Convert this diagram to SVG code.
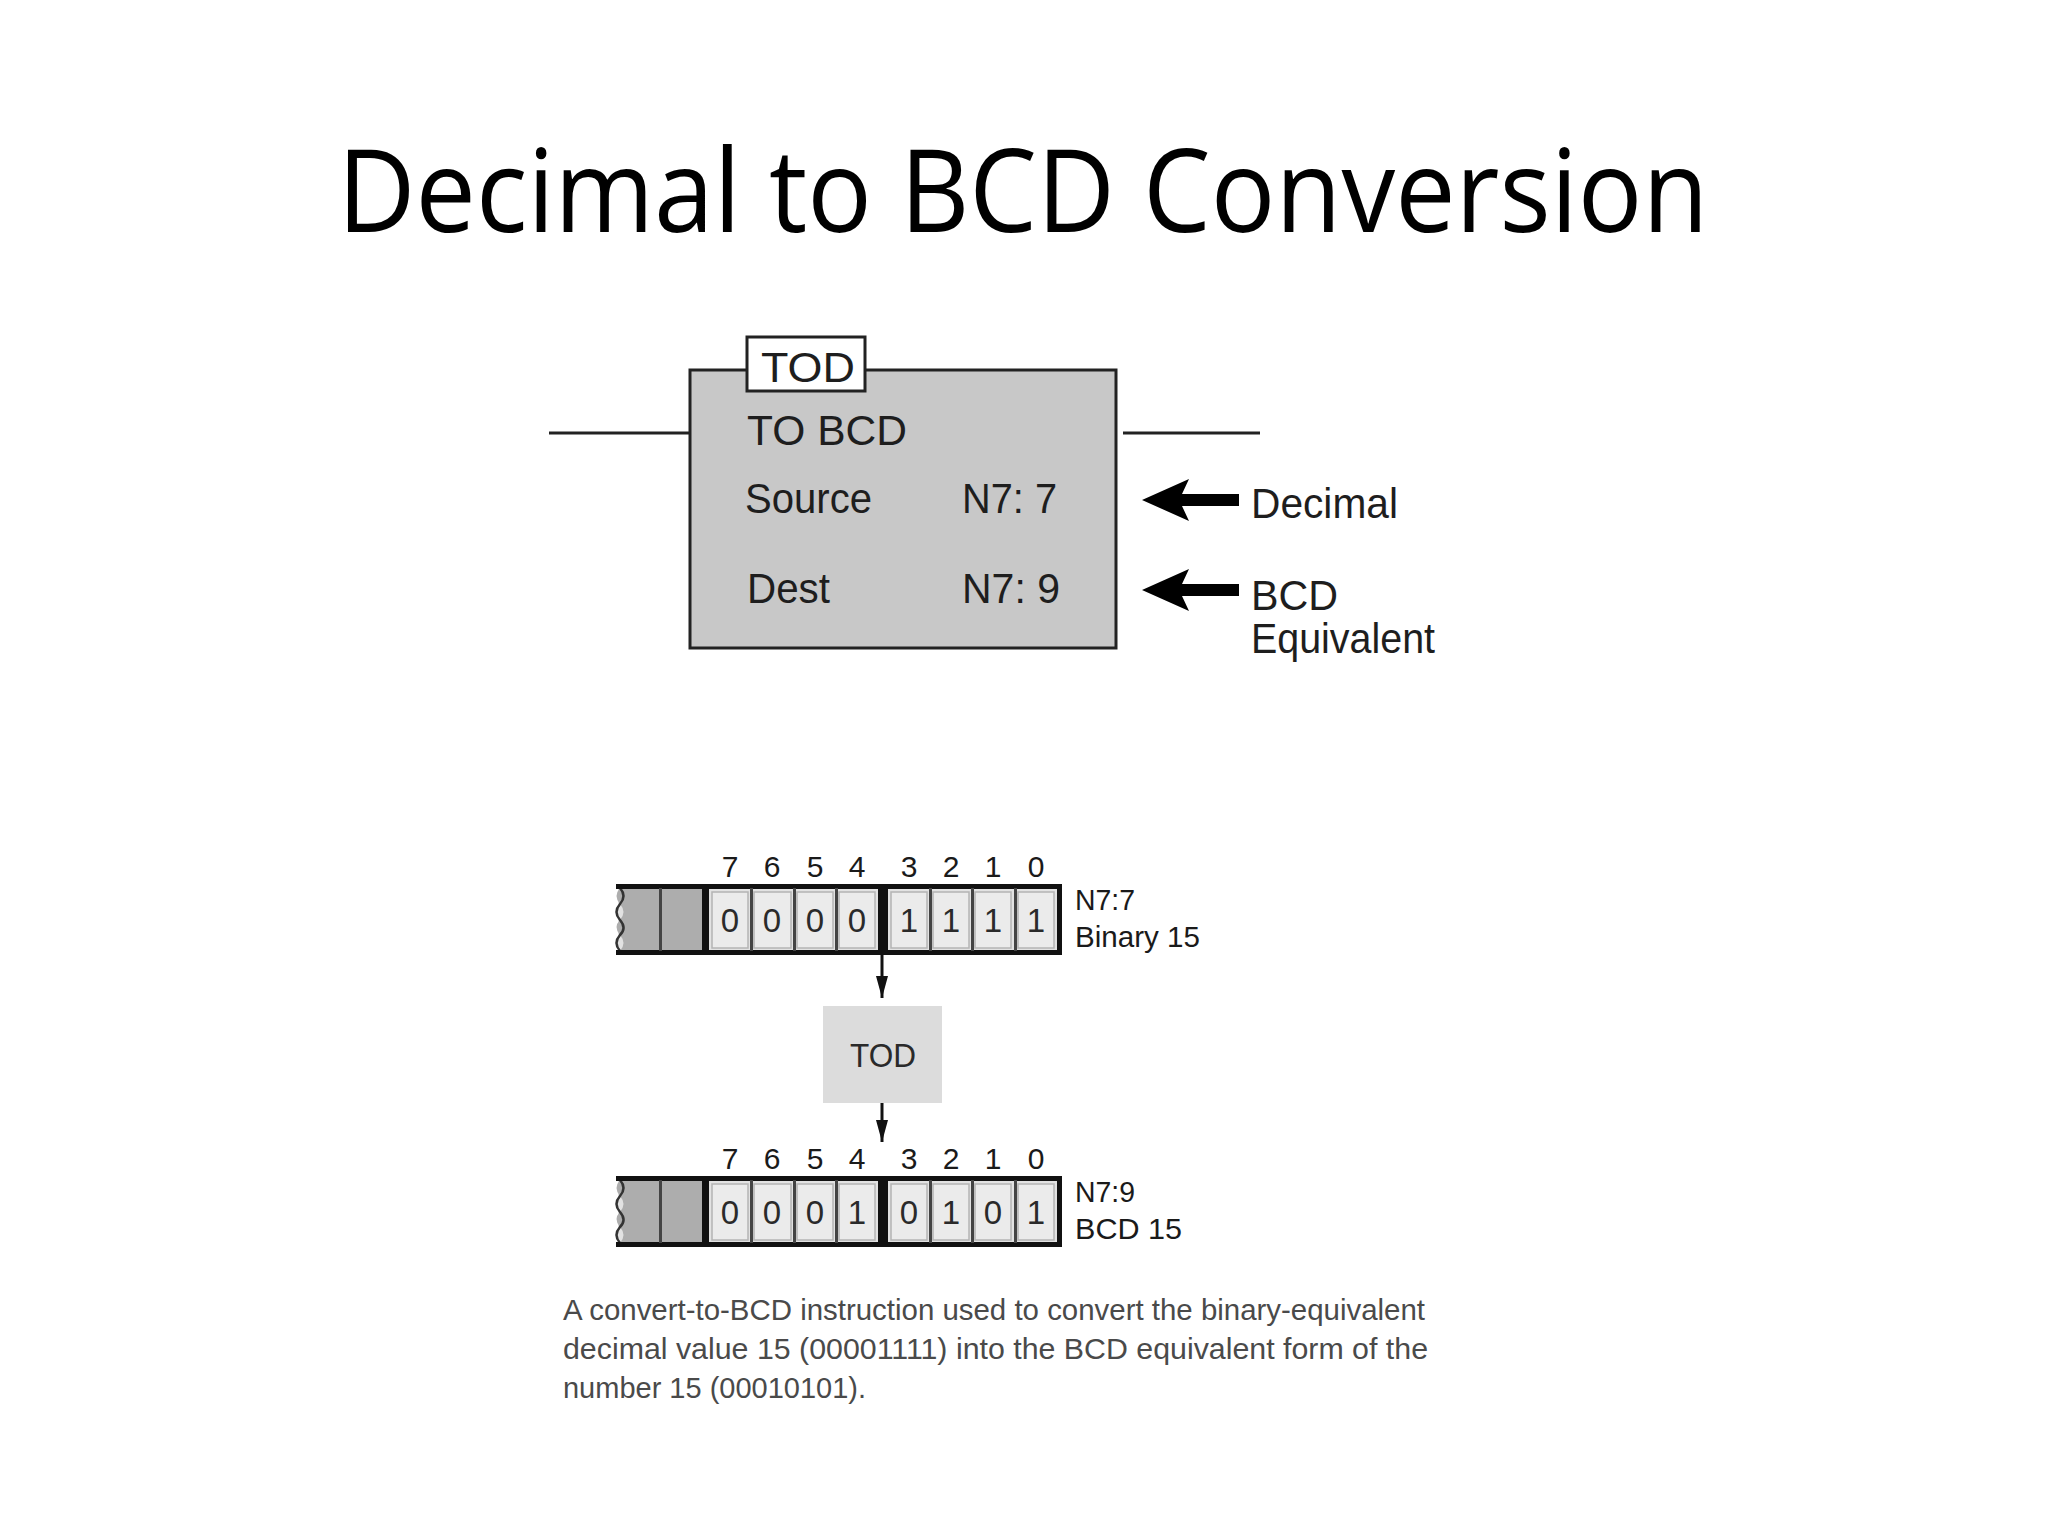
<svg xmlns="http://www.w3.org/2000/svg" width="2048" height="1536" viewBox="0 0 2048 1536">
<style>
.title{font-family:"Open Sans","Noto Sans",sans-serif;font-size:116px;fill:#000}
.lad{font-family:"Liberation Sans",Arial,sans-serif;font-size:42px;fill:#1e1e1e}
.bitn{font-family:"Liberation Sans",Arial,sans-serif;font-size:30px;fill:#1a1a1a;text-anchor:middle}
.bitv{font-family:"Liberation Sans",Arial,sans-serif;font-size:33px;fill:#2a2a2a;text-anchor:middle}
.rlab{font-family:"Liberation Sans",Arial,sans-serif;font-size:29px;fill:#1a1a1a}
.cap{font-family:"Liberation Sans",Arial,sans-serif;font-size:29px;fill:#4a4a4a}
.wire{stroke:#222;stroke-width:3;fill:none}
.big{fill:#000}
.sep{fill:#444}
.bar{fill:#111}
.cell{fill:#ebebeb;stroke:#b4b4b4;stroke-width:1.5}
.conn{stroke:#111;stroke-width:3;fill:none}
</style>
<defs>
<marker id="ah" markerUnits="userSpaceOnUse" markerWidth="22" markerHeight="12" viewBox="0 0 22 12" refX="22" refY="6" orient="auto">
<path d="M0 0 L22 6 L0 12 Z" fill="#111"/>
</marker>
<g id="register">
<rect x="618" y="886" width="444" height="67" fill="#e2e2e2"/>
<path d="M620 888 H702 V951 H620 q7 -8 0 -16 q-7 -8 0 -15 q7 -8 0 -16 q-7 -8 0 -16 Z" fill="#adadad"/>
<path d="M620 888 q7 8 0 16 q-7 8 0 16 q7 8 0 15 q-7 8 0 16" stroke="#333" stroke-width="2.5" fill="none"/>
<rect class="cell" x="712" y="892" width="36" height="56"/>
<rect class="cell" x="754" y="892" width="37" height="56"/>
<rect class="cell" x="797" y="892" width="36" height="56"/>
<rect class="cell" x="839" y="892" width="36" height="56"/>
<rect class="cell" x="891" y="892" width="36" height="56"/>
<rect class="cell" x="933" y="892" width="36" height="56"/>
<rect class="cell" x="975" y="892" width="36" height="56"/>
<rect class="cell" x="1018" y="892" width="36" height="56"/>
<rect class="bar" x="616" y="884" width="446" height="5"/>
<rect class="bar" x="616" y="950" width="446" height="5"/>
<rect class="sep" x="659" y="888" width="3" height="63"/>
<rect class="bar" x="702" y="884" width="7" height="71"/>
<rect class="sep" x="750" y="888" width="3" height="63"/>
<rect class="sep" x="793" y="888" width="3" height="63"/>
<rect class="sep" x="835" y="888" width="3" height="63"/>
<rect class="bar" x="878" y="884" width="10" height="71"/>
<rect class="sep" x="929" y="888" width="3" height="63"/>
<rect class="sep" x="971" y="888" width="3" height="63"/>
<rect class="sep" x="1014" y="888" width="3" height="63"/>
<rect class="bar" x="1057" y="884" width="5" height="71"/>
</g>
</defs>
<rect width="2048" height="1536" fill="#fff"/>

<g id="title">
<text class="title" x="1023" y="232" text-anchor="middle" textLength="1371" lengthAdjust="spacingAndGlyphs">Decimal to BCD Conversion</text>
</g>

<g id="tod-instruction">
<rect x="690" y="370" width="426" height="278" fill="#c8c8c8" stroke="#222" stroke-width="3"/>
<rect x="747" y="337" width="118" height="54" fill="#fff" stroke="#222" stroke-width="3"/>
<text class="lad" x="761" y="382" textLength="94" lengthAdjust="spacingAndGlyphs">TOD</text>
<text class="lad" x="747" y="445" textLength="160" lengthAdjust="spacingAndGlyphs">TO BCD</text>
<text class="lad" x="745" y="513" textLength="127" lengthAdjust="spacingAndGlyphs">Source</text>
<text class="lad" x="962" y="513" textLength="95" lengthAdjust="spacingAndGlyphs">N7: 7</text>
<text class="lad" x="747" y="603" textLength="83" lengthAdjust="spacingAndGlyphs">Dest</text>
<text class="lad" x="962" y="603" textLength="98" lengthAdjust="spacingAndGlyphs">N7: 9</text>
</g>

<g id="label-decimal">
<text class="lad" x="1251" y="518" textLength="147" lengthAdjust="spacingAndGlyphs">Decimal</text>
</g>
<g id="label-bcd">
<text class="lad" x="1251" y="610" textLength="87" lengthAdjust="spacingAndGlyphs">BCD</text>
<text class="lad" x="1251" y="653" textLength="184" lengthAdjust="spacingAndGlyphs">Equivalent</text>
</g>

<g id="reg-n7-7">
<use href="#register"/>
<text class="bitn" x="730" y="877">7</text>
<text class="bitn" x="772" y="877">6</text>
<text class="bitn" x="815" y="877">5</text>
<text class="bitn" x="857" y="877">4</text>
<text class="bitn" x="909" y="877">3</text>
<text class="bitn" x="951" y="877">2</text>
<text class="bitn" x="993" y="877">1</text>
<text class="bitn" x="1036" y="877">0</text>
<text class="bitv" x="730" y="932">0</text>
<text class="bitv" x="772" y="932">0</text>
<text class="bitv" x="815" y="932">0</text>
<text class="bitv" x="857" y="932">0</text>
<text class="bitv" x="909" y="932">1</text>
<text class="bitv" x="951" y="932">1</text>
<text class="bitv" x="993" y="932">1</text>
<text class="bitv" x="1036" y="932">1</text>
<text class="rlab" x="1075" y="910" textLength="60" lengthAdjust="spacingAndGlyphs">N7:7</text>
<text class="rlab" x="1075" y="947" textLength="125" lengthAdjust="spacingAndGlyphs">Binary 15</text>
</g>

<g id="tod-block">
<rect x="823" y="1006" width="119" height="97" fill="#dcdcdc"/>
<text class="bitv" x="883" y="1067" textLength="66" lengthAdjust="spacingAndGlyphs">TOD</text>
</g>

<g id="reg-n7-9" transform="translate(0,292)">
<use href="#register"/>
<text class="bitn" x="730" y="877">7</text>
<text class="bitn" x="772" y="877">6</text>
<text class="bitn" x="815" y="877">5</text>
<text class="bitn" x="857" y="877">4</text>
<text class="bitn" x="909" y="877">3</text>
<text class="bitn" x="951" y="877">2</text>
<text class="bitn" x="993" y="877">1</text>
<text class="bitn" x="1036" y="877">0</text>
<text class="bitv" x="730" y="932">0</text>
<text class="bitv" x="772" y="932">0</text>
<text class="bitv" x="815" y="932">0</text>
<text class="bitv" x="857" y="932">1</text>
<text class="bitv" x="909" y="932">0</text>
<text class="bitv" x="951" y="932">1</text>
<text class="bitv" x="993" y="932">0</text>
<text class="bitv" x="1036" y="932">1</text>
<text class="rlab" x="1075" y="910" textLength="60" lengthAdjust="spacingAndGlyphs">N7:9</text>
<text class="rlab" x="1075" y="947" textLength="107" lengthAdjust="spacingAndGlyphs">BCD 15</text>
</g>

<g id="connectors">
<line class="wire" x1="549" y1="433" x2="690" y2="433"/>
<line class="wire" x1="1123" y1="433" x2="1260" y2="433"/>
<polygon class="big" points="1142,500 1189,479 1182,494 1239,494 1239,506 1182,506 1189,521"/>
<polygon class="big" points="1142,590 1189,569 1182,584 1239,584 1239,596 1182,596 1189,611"/>
<path class="conn" d="M882 955 V998" marker-end="url(#ah)"/>
<path class="conn" d="M882 1103 V1142" marker-end="url(#ah)"/>
</g>

<g id="caption">
<text class="cap" x="563" y="1320" textLength="862" lengthAdjust="spacingAndGlyphs">A convert-to-BCD instruction used to convert the binary-equivalent</text>
<text class="cap" x="563" y="1359" textLength="865" lengthAdjust="spacingAndGlyphs">decimal value 15 (00001111) into the BCD equivalent form of the</text>
<text class="cap" x="563" y="1398" textLength="303" lengthAdjust="spacingAndGlyphs">number 15 (00010101).</text>
</g>
</svg>
